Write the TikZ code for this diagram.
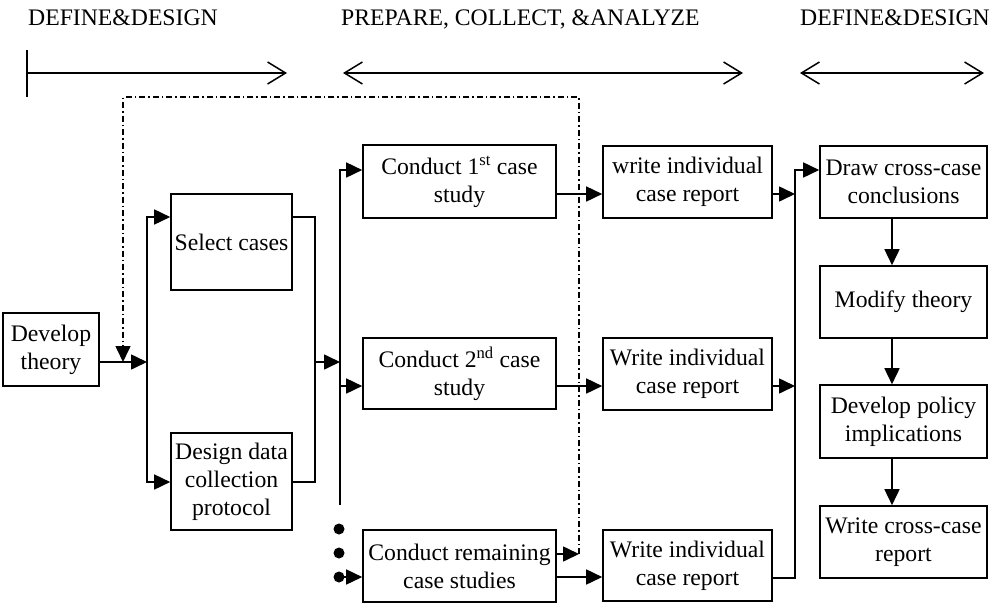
\documentclass[tikz,border=0pt]{standalone}
\usepackage{fontspec}
\setmainfont{Liberation Serif}
\usetikzlibrary{arrows.meta}
\begin{document}
\begin{tikzpicture}[x=1pt,y=-1pt,
  >={Straight Barb[length=18pt,width=22pt]},
  box/.style={draw, line width=1.6pt, inner sep=0pt, align=center, font=\fontsize{23.7}{28}\selectfont},
  arr/.style={line width=1.6pt, -{Triangle[length=16pt,width=15pt]}},
  conn/.style={line width=1.6pt},
  dd/.style={line width=1.3pt, dash pattern=on 6pt off 3pt on 1.5pt off 3pt},
  topline/.style={line width=1.5pt},
  lab/.style={font=\fontsize{23.7}{28}\selectfont, inner sep=0pt, anchor=base west},
  dot/.style={circle, fill, inner sep=0pt, minimum size=11pt}]
\useasboundingbox (0,0) rectangle (990,605);

% top labels
\node[lab] (l1) at (28,25) {DEFINE\&DESIGN};
\node[lab] (l2) at (341,25) {PREPARE, COLLECT, \&ANALYZE};
\node[lab] (l3) at (800,25) {DEFINE\&DESIGN};

% top arrows
\coordinate (b1t) at (27,50);
\coordinate (b1b) at (27,97);
\coordinate (a1s) at (27,73);
\coordinate (a1e) at (287,73);
\coordinate (a2s) at (343,73);
\coordinate (a2e) at (743,73);
\coordinate (a3s) at (800,73);
\coordinate (a3e) at (984,73);
\draw[topline] (b1t) -- (b1b);
\draw[topline,->] (a1s) -- (a1e);
\draw[topline,<->] (a2s) -- (a2e);
\draw[topline,<->] (a3s) -- (a3e);

% boxes
\node[box, minimum width=96pt, minimum height=73pt] (dev) at (51,349.5) {Develop\\theory};
\node[box, minimum width=121pt, minimum height=96pt] (sel) at (231.5,242) {Select cases};
\node[box, minimum width=121pt, minimum height=97pt] (des) at (231.5,481.5) {Design data\\collection\\protocol};
\node[box, minimum width=193pt, minimum height=73pt] (c1) at (459.5,181.5) {Conduct 1\textsuperscript{st} case\\study};
\node[box, minimum width=193pt, minimum height=71pt] (c2) at (459.5,373.5) {Conduct 2\textsuperscript{nd} case\\study};
\node[box, minimum width=193pt, minimum height=72pt] (c3) at (459.5,566) {Conduct remaining\\case studies};
\node[box, minimum width=169pt, minimum height=72pt] (w1) at (687.5,182) {write individual\\case report};
\node[box, minimum width=169pt, minimum height=72pt] (w2) at (687.5,374) {Write individual\\case report};
\node[box, minimum width=169pt, minimum height=71pt] (w3) at (687.5,565.5) {Write individual\\case report};
\node[box, minimum width=167pt, minimum height=72pt] (drw) at (903.5,182) {Draw cross-case\\conclusions};
\node[box, minimum width=167pt, minimum height=72pt] (mod) at (903.5,302) {Modify theory};
\node[box, minimum width=167pt, minimum height=73pt] (pol) at (903.5,421.5) {Develop policy\\implications};
\node[box, minimum width=167pt, minimum height=72pt] (wcc) at (903.5,542) {Write cross-case\\report};

% dots
\node[dot] (d1) at (339,529) {};
\node[dot] (d2) at (339,553) {};
\node[dot] (d3) at (339,577) {};

% junction coordinates
\coordinate (j1) at (147,362);
\coordinate (j1t) at (147,217);
\coordinate (j1b) at (147,482);
\coordinate (j2t) at (315,217);
\coordinate (j2b) at (315,482);
\coordinate (j2m) at (315,362);
\coordinate (j3m) at (340,362);
\coordinate (j3t) at (340,170);
\coordinate (j3b) at (340,505);
\coordinate (j3r2) at (340,386);
\coordinate (r1) at (0,194);
\coordinate (r2) at (0,386);
\coordinate (r3) at (0,577);
\coordinate (dv) at (579,554);
\coordinate (dtr) at (579,97);
\coordinate (dtl) at (123,97);
\coordinate (dend) at (123,362);
\coordinate (j4t) at (795,170);
\coordinate (j4b) at (795,578);
\coordinate (j4r1) at (795,194);
\coordinate (j4r2) at (795,386);

% connectors
\draw[arr] (dev.east |- j1) -- (j1);
\draw[arr] (j1) -- (j1t) -- (sel.west |- j1t);
\draw[arr] (j1) -- (j1b) -- (des.west |- j1b);
\draw[conn] (sel.east |- j2t) -- (j2t) -- (j2b) -- (des.east |- j2b);
\draw[arr] (j2m) -- (j3m);
\draw[arr] (j3b) -- (j3t) -- (c1.west |- j3t);
\draw[arr] (j3r2) -- (c2.west |- j3r2);
\draw[arr] (d3.center) -- (c3.west |- d3);
\draw[arr] (c1.east |- r1) -- (w1.west |- r1);
\draw[arr] (c2.east |- r2) -- (w2.west |- r2);
\draw[arr] (c3.east |- r3) -- (w3.west |- r3);
\draw[arr] (c3.east |- dv) -- (dv);
\draw[dd,arr] (dv) -- (dtr) -- (dtl) -- (dend);
\draw[arr] (w1.east |- r1) -- (j4r1);
\draw[arr] (w2.east |- r2) -- (j4r2);
\draw[arr] (w3.east |- j4b) -- (j4b) -- (j4t) -- (drw.west |- j4t);
\draw[arr] ([xshift=-11.5pt]drw.south) -- ([xshift=-11.5pt]mod.north);
\draw[arr] ([xshift=-11.5pt]mod.south) -- ([xshift=-11.5pt]pol.north);
\draw[arr] ([xshift=-11.5pt]pol.south) -- ([xshift=-11.5pt]wcc.north);
\end{tikzpicture}
\end{document}
